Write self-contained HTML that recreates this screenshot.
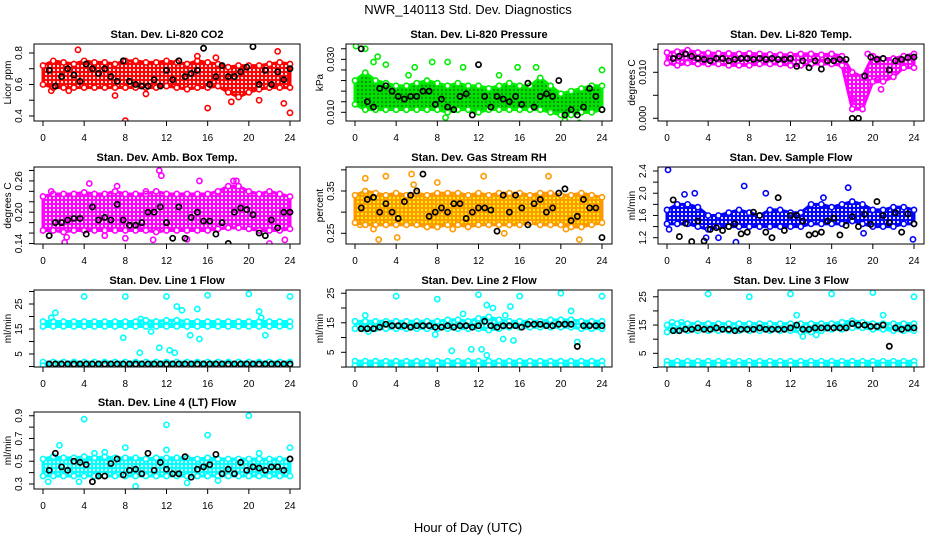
<!DOCTYPE html>
<html><head><meta charset="utf-8"><style>
html,body{margin:0;padding:0;background:#fff;}
svg{display:block;font-family:"Liberation Sans",sans-serif;}
</style></head><body>
<svg id="chart" width="936" height="540" viewBox="0 0 936 540" xmlns="http://www.w3.org/2000/svg">
<defs>
<pattern id="p-red" width="4" height="4" patternUnits="userSpaceOnUse"><rect width="4" height="4" fill="#ff0000"/><circle cx="2" cy="2" r="1.1" fill="#fff"/></pattern>
<pattern id="p-green" width="4" height="4" patternUnits="userSpaceOnUse"><rect width="4" height="4" fill="#00e000"/><circle cx="2" cy="2" r="0.9" fill="#006600"/></pattern>
<pattern id="p-magenta" width="4" height="4" patternUnits="userSpaceOnUse"><rect width="4" height="4" fill="#ff00ff"/><circle cx="2" cy="2" r="1.1" fill="#fff"/></pattern>
<pattern id="p-orange" width="4" height="4" patternUnits="userSpaceOnUse"><rect width="4" height="4" fill="#ff9900"/><circle cx="2" cy="2" r="1.1" fill="#ffff00"/></pattern>
<pattern id="p-blue" width="4" height="4" patternUnits="userSpaceOnUse"><rect width="4" height="4" fill="#0000ff"/><circle cx="2" cy="2" r="1.1" fill="#fff"/></pattern>
<pattern id="p-cyan" width="4" height="4" patternUnits="userSpaceOnUse"><rect width="4" height="4" fill="#00ffff"/><circle cx="2" cy="2" r="1.1" fill="#fff"/></pattern>
</defs>
<text x="468" y="14" font-size="13" text-anchor="middle">NWR_140113 Std. Dev. Diagnostics</text>
<text x="468" y="532" font-size="13" text-anchor="middle">Hour of Day (UTC)</text>
</svg>
<script>
// shared
const hours = [0,1,2,3,4,5,6,7,8,9,10,11,12,13,14,15,16,17,18,19,20,21,22,23,24];
const xTicks = [0,4,8,12,16,20,24];
const blackHours = [0.6,1.2,1.8,2.4,3.0,3.6,4.2,4.8,5.4,6.0,6.6,7.2,7.8,8.4,9.0,9.6,10.2,10.8,11.4,12.0,12.6,13.2,13.8,14.4,15.0,15.6,16.2,16.8,17.4,18.0,18.6,19.2,19.8,20.4,21.0,21.6,22.2,22.8,23.4,24.0];

// 1 CO2
const co2Lo = [0.6,0.58,0.58,0.58,0.58,0.58,0.58,0.58,0.58,0.58,0.58,0.58,0.59,0.58,0.57,0.58,0.58,0.59,0.55,0.52,0.55,0.57,0.58,0.58,0.58];
const co2Hi = [0.72,0.75,0.74,0.73,0.75,0.74,0.74,0.73,0.75,0.75,0.74,0.74,0.75,0.74,0.73,0.75,0.74,0.73,0.71,0.72,0.72,0.72,0.73,0.74,0.73];
const co2Out = [[3.4,0.82],[8,0.37],[16,0.45],[22.8,0.81],[23.4,0.48],[24,0.42],[7,0.53],[21,0.5],[18.3,0.49],[10,0.54],[15,0.78],[2.5,0.56],[16.8,0.77],[0.8,0.56]];
const co2Black = [0.69,0.59,0.65,0.7,0.66,0.62,0.73,0.7,0.67,0.7,0.65,0.62,0.75,0.62,0.6,0.59,0.59,0.63,0.59,0.69,0.63,0.75,0.65,0.67,0.69,0.83,0.6,0.65,0.72,0.65,0.65,0.68,0.71,0.84,0.6,0.69,0.6,0.68,0.63,0.7];
// 2 Pressure
const presLo = [0.013,0.011,0.011,0.011,0.011,0.011,0.011,0.011,0.011,0.01,0.011,0.011,0.01,0.011,0.011,0.011,0.011,0.011,0.011,0.01,0.009,0.009,0.01,0.01,0.011];
const presHi = [0.022,0.025,0.022,0.021,0.02,0.02,0.021,0.022,0.021,0.02,0.021,0.02,0.02,0.019,0.02,0.021,0.02,0.02,0.023,0.02,0.017,0.018,0.019,0.02,0.02];
const presOut = [[0.1,0.035],[1,0.034],[2.2,0.031],[1.8,0.029],[3,0.028],[5.8,0.027],[7.5,0.029],[9,0.029],[10.5,0.027],[15.8,0.027],[17.6,0.027],[24,0.026],[21.8,0.006],[20.4,0.007],[8.8,0.008],[5.2,0.024],[14,0.024]];
const presBlack = [0.034,0.014,0.012,0.019,0.02,0.018,0.016,0.015,0.016,0.016,0.018,0.018,0.013,0.015,0.012,0.011,0.016,0.017,0.009,0.028,0.016,0.012,0.016,0.015,0.014,0.016,0.013,0.021,0.012,0.016,0.017,0.016,0.022,0.009,0.011,0.009,0.012,0.019,0.016,0.011];
// 3 Temp
const tempLo = [0.012,0.0115,0.012,0.0118,0.0118,0.0118,0.0115,0.0115,0.0115,0.0118,0.0118,0.0118,0.0115,0.0115,0.0118,0.0118,0.0118,0.0115,0.002,0.002,0.008,0.008,0.009,0.011,0.011];
const tempHi = [0.0143,0.0145,0.0148,0.0143,0.0142,0.0141,0.0141,0.014,0.0141,0.014,0.0139,0.0138,0.0138,0.014,0.014,0.0138,0.014,0.0135,0.01,0.009,0.0135,0.013,0.013,0.0135,0.014];
const tempOut = [[17.8,0.006],[18,0.004],[19.5,0.014],[20.4,0.0083],[20.8,0.0063],[17.6,0.0105]];
const tempBlack = [0.013,0.0135,0.014,0.0135,0.013,0.0128,0.0125,0.013,0.013,0.0125,0.0128,0.013,0.013,0.0128,0.013,0.0128,0.013,0.0128,0.0128,0.013,0.0113,0.0125,0.011,0.0125,0.0107,0.0125,0.0125,0.0128,0.0128,0,0,0.0092,0.0133,0.0128,0.013,0.0105,0.0125,0.0128,0.0132,0.0133];
// 4 Amb box
const ambLo = [0.165,0.165,0.162,0.165,0.165,0.165,0.165,0.165,0.165,0.165,0.165,0.162,0.165,0.165,0.165,0.165,0.165,0.168,0.17,0.17,0.168,0.165,0.165,0.165,0.168];
const ambHi = [0.23,0.235,0.235,0.235,0.238,0.235,0.235,0.24,0.235,0.235,0.235,0.24,0.235,0.235,0.235,0.235,0.235,0.24,0.25,0.25,0.24,0.235,0.24,0.235,0.23];
const ambOut = [[0.8,0.24],[2.1,0.142],[2.3,0.152],[4.5,0.255],[7.2,0.25],[11.3,0.28],[11.5,0.27],[10.7,0.147],[15.2,0.26],[18.5,0.26],[18.8,0.26],[22,0.14],[23.5,0.147],[6,0.155],[8,0.15],[14,0.148],[10,0.24]];
const ambBlack = [0.155,0.18,0.18,0.185,0.188,0.188,0.158,0.21,0.185,0.19,0.185,0.215,0.185,0.175,0.175,0.18,0.2,0.2,0.21,0.18,0.15,0.21,0.15,0.19,0.2,0.183,0.183,0.158,0.18,0.14,0.2,0.208,0.205,0.195,0.16,0.155,0.185,0.17,0.2,0.2];
// 5 RH
const rhLo = [0.275,0.27,0.27,0.27,0.27,0.27,0.27,0.265,0.265,0.27,0.27,0.265,0.27,0.27,0.27,0.27,0.27,0.275,0.27,0.27,0.27,0.265,0.265,0.27,0.275];
const rhHi = [0.34,0.35,0.345,0.34,0.345,0.34,0.345,0.34,0.345,0.345,0.345,0.34,0.345,0.34,0.345,0.345,0.345,0.34,0.345,0.345,0.34,0.34,0.345,0.34,0.335];
const rhOut = [[0.5,0.27],[1,0.38],[2.3,0.235],[3,0.385],[4.1,0.24],[5.5,0.39],[5.7,0.365],[8,0.37],[12.5,0.385],[14.5,0.25],[18.8,0.385],[21.8,0.235],[20.5,0.26],[9.5,0.26],[1.8,0.26]];
const rhBlack = [0.31,0.33,0.335,0.3,0.32,0.3,0.285,0.325,0.34,0.35,0.39,0.29,0.3,0.31,0.3,0.32,0.32,0.285,0.3,0.31,0.31,0.305,0.255,0.34,0.3,0.34,0.31,0.27,0.32,0.33,0.3,0.31,0.345,0.355,0.28,0.29,0.33,0.31,0.31,0.24];
// 6 Sample flow
const sfLo = [1.45,1.45,1.45,1.4,1.35,1.4,1.4,1.4,1.4,1.4,1.4,1.4,1.4,1.4,1.45,1.45,1.45,1.45,1.5,1.45,1.4,1.4,1.4,1.45,1.45];
const sfHi = [1.7,1.8,1.8,1.75,1.6,1.6,1.65,1.7,1.65,1.6,1.7,1.7,1.65,1.65,1.8,1.8,1.75,1.8,1.85,1.8,1.7,1.7,1.75,1.75,1.7];
const sfOut = [[0.1,2.42],[7.5,2.13],[9.6,2.0],[1.7,1.98],[2.7,2.0],[17.6,2.1],[6.7,1.12],[0.2,1.35],[23.9,1.17],[19.1,1.28],[3.8,1.2],[5,1.2],[15.2,1.92]];
const sfBlack = [1.88,1.22,1.46,1.13,1.5,1.14,1.35,1.38,1.33,1.4,1.45,1.27,1.3,1.66,1.6,1.3,1.2,1.92,1.33,1.6,1.6,1.5,1.25,1.27,1.3,1.5,1.55,1.25,1.42,1.58,1.4,1.62,1.44,1.85,1.6,1.47,1.65,1.3,1.63,1.45];
// 7 Line 1
const l1Lo = [16,16,16,16,16,16,16,16,16,16,16,16,16,16,16,16,16,16,16,16,16,16,16,16,16];
const l1Hi = [18,18,18,18,18,18,18,18,18,18,18.5,18,18.5,18.5,18,18,18,18,18,18,18,18,18,18,18];
const l1Lo2 = [0.3,0.3,0.3,0.3,0.3,0.3,0.3,0.3,0.3,0.3,0.3,0.3,0.3,0.3,0.3,0.3,0.3,0.3,0.3,0.3,0.3,0.3,0.3,0.3,0.3];
const l1Hi2 = [1.8,1.8,1.8,1.8,1.8,1.8,1.8,1.8,1.8,1.8,1.8,1.8,1.8,1.8,1.8,1.8,1.8,1.8,1.8,1.8,1.8,1.8,1.8,1.8,1.8];
const l1Out = [[4,28],[8,28],[12,28],[16,28.5],[20,29],[24,28],[0.8,19.5],[1.2,21.5],[7.8,11.5],[9.4,5.5],[11.3,7.5],[12.3,6.5],[12.8,5.5],[13,24],[13.5,22.5],[15,23],[15.2,11],[14.3,12.5],[21,22],[21.2,19.5],[21.6,12.5],[10.5,14],[9.5,19]];
const l1Black = [1,1,1,1,1,1,1,1,1,1,1,1,1,1,1,1,1,1,1,1,1,1,1,1,1,1,1,1,1,1,1,1,1,1,1,1,1,1,1,1];
// 8 Line 2
const l2Lo = [13,13,13,13,13,13,13,13,13,13,13,13,13,12.5,13,13.5,13.5,13.5,13.5,13.5,13.5,13.5,13,13,13];
const l2Hi = [15.5,15.5,15.5,15.5,15.5,15.5,15.5,15.5,15.5,16,16,15.5,16.5,17,16,15.5,15.5,15.5,15.5,16,16,16,15.5,15.5,15.5];
const l2Lo2 = [0.5,0.5,0.5,0.5,0.5,0.5,0.5,0.5,0.5,0.5,0.5,0.5,0.5,0.5,0.5,0.5,0.5,0.5,0.5,0.5,0.5,0.5,0.5,0.5,0.5];
const l2Hi2 = [2,2,2,2,2,2,2,2,2,2,2,2,2,2,2,2,2,2,2,2,2,2,2,2,2];
const l2Out = [[4,24],[8,23],[12,24.5],[16,24],[20,25],[24,24],[1,17.5],[9.4,5.5],[11.3,6],[12.3,6],[12.8,4],[12.8,21],[13.4,20],[14.6,17.5],[14.4,9.5],[15.4,9],[15.1,20.5],[7.8,11],[21,19],[21.6,8.5],[10.5,18],[1.3,12]];
const l2Black = [13,13,13,13.5,14.5,14,14,14,13.5,14,14,14,13.5,13.5,14,13.5,14,14,13.5,14,15.5,14,13.5,14,14,14,13.5,14.5,14.5,14.5,14,14,14.5,14.5,14.5,7,14,14,14,14];
// 9 Line 3
const l3Lo = [12.5,13,13,13,13,13,13,13,13,13,13,13,13,12.5,12.5,13,13.5,13.5,14,14,13.5,13.5,13,13,13];
const l3Hi = [15,15.5,15.5,15.5,15.5,15.5,15.5,15.5,15.5,15.5,15.5,15.5,15.5,15.5,15.5,15.5,15.5,16,16.5,16,15.5,15.5,15.5,15.5,15.5];
const l3Lo2 = [0.8,0.8,0.8,0.8,0.8,0.8,0.8,0.8,0.8,0.8,0.8,0.8,0.8,0.8,0.8,0.8,0.8,0.8,0.8,0.8,0.8,0.8,0.8,0.8,0.8];
const l3Hi2 = [2.2,2.2,2.2,2.2,2.2,2.2,2.2,2.2,2.2,2.2,2.2,2.2,2.2,2.2,2.2,2.2,2.2,2.2,2.2,2.2,2.2,2.2,2.2,2.2,2.2];
const l3Out = [[4,26],[8,25],[12,26],[16,26],[20,26.5],[24,25],[0.5,16],[12.6,18.5],[13.2,11],[14.5,11.5],[21,18.5],[1.4,16]];
const l3Black = [13,13,13.5,13.5,14,13.5,13.5,14,13.5,13.5,13,13.5,13.5,13.5,14,13.5,13.5,13.5,13.5,14,15,13.5,13.5,14,14,14,14,14,14,15.5,15,15,14.5,14.5,15,7.5,14,13.5,14,14];
// 10 Line 4
const l4Lo = [0.37,0.37,0.37,0.37,0.37,0.37,0.37,0.37,0.37,0.37,0.37,0.37,0.37,0.37,0.37,0.37,0.37,0.37,0.37,0.37,0.37,0.37,0.37,0.37,0.37];
const l4Hi = [0.52,0.54,0.53,0.53,0.54,0.53,0.54,0.53,0.53,0.53,0.52,0.53,0.53,0.53,0.53,0.52,0.53,0.52,0.52,0.52,0.52,0.52,0.52,0.52,0.52];
const l4Out = [[4,0.87],[12,0.82],[16,0.73],[20,0.9],[24,0.62],[1.6,0.64],[8,0.62],[12,0.6],[0.5,0.32],[3.5,0.32],[9,0.28],[14,0.31],[21,0.57],[5,0.57],[6,0.58],[17,0.33]];
const l4Black = [0.42,0.57,0.45,0.42,0.5,0.49,0.47,0.32,0.37,0.37,0.48,0.52,0.38,0.42,0.43,0.39,0.57,0.42,0.49,0.43,0.39,0.39,0.54,0.36,0.43,0.45,0.47,0.56,0.39,0.43,0.39,0.49,0.42,0.45,0.44,0.42,0.45,0.45,0.42,0.52];

const panels = [
 {name:'co2',title:'Stan. Dev. Li-820 CO2',ylab:'Licor ppm',col:'#ff0000',pat:'p-red',dom:[0.368,0.857],ticks:[0.4,0.5,0.6,0.7,0.8],labs:['0.4','0.6','0.8'],labAt:[0.4,0.6,0.8],lo:co2Lo,hi:co2Hi,out:co2Out,blk:co2Black},
 {name:'pressure',title:'Stan. Dev. Li-820 Pressure',ylab:'kPa',col:'#00ee00',pat:'p-green',dom:[0.00672,0.0358],ticks:[0.010,0.014,0.018,0.022,0.026,0.030,0.034],labs:['0.010','0.030'],labAt:[0.010,0.030],lo:presLo,hi:presHi,out:presOut,blk:presBlack},
 {name:'temp',title:'Stan. Dev. Li-820 Temp.',ylab:'degrees C',col:'#ff00ff',pat:'p-magenta',dom:[-0.00059,0.01615],ticks:[0,0.005,0.010,0.015],labs:['0.000','0.010'],labAt:[0,0.010],lo:tempLo,hi:tempHi,out:tempOut,blk:tempBlack},
 {name:'amb-box-temp',title:'Stan. Dev. Amb. Box Temp.',ylab:'degrees C',col:'#ff00ff',pat:'p-magenta',dom:[0.139,0.2867],ticks:[0.14,0.16,0.18,0.20,0.22,0.24,0.26,0.28],labs:['0.14','0.20','0.26'],labAt:[0.14,0.20,0.26],lo:ambLo,hi:ambHi,out:ambOut,blk:ambBlack},
 {name:'gas-rh',title:'Stan. Dev. Gas Stream RH',ylab:'percent',col:'#ff9900',pat:'p-orange',dom:[0.2247,0.4067],ticks:[0.25,0.30,0.35,0.40],labs:['0.25','0.35'],labAt:[0.25,0.35],lo:rhLo,hi:rhHi,out:rhOut,blk:rhBlack},
 {name:'sample-flow',title:'Stan. Dev. Sample Flow',ylab:'ml/min',col:'#0000ff',pat:'p-blue',dom:[1.087,2.472],ticks:[1.2,1.4,1.6,1.8,2.0,2.2,2.4],labs:['1.2','1.6','2.0','2.4'],labAt:[1.2,1.6,2.0,2.4],lo:sfLo,hi:sfHi,out:sfOut,blk:sfBlack},
 {name:'line1-flow',title:'Stan. Dev. Line 1 Flow',ylab:'ml/min',col:'#00ffff',pat:'p-cyan',dom:[-0.2,30.6],ticks:[0,5,10,15,20,25,30],labs:['5','15','25'],labAt:[5,15,25],lo:l1Lo,hi:l1Hi,lo2:l1Lo2,hi2:l1Hi2,out:l1Out,blk:l1Black},
 {name:'line2-flow',title:'Stan. Dev. Line 2 Flow',ylab:'ml/min',col:'#00ffff',pat:'p-cyan',dom:[0.02,26.1],ticks:[0,5,10,15,20,25],labs:['5','15','25'],labAt:[5,15,25],lo:l2Lo,hi:l2Hi,lo2:l2Lo2,hi2:l2Hi2,out:l2Out,blk:l2Black},
 {name:'line3-flow',title:'Stan. Dev. Line 3 Flow',ylab:'ml/min',col:'#00ffff',pat:'p-cyan',dom:[0.16,27.4],ticks:[0,5,10,15,20,25],labs:['5','15','25'],labAt:[5,15,25],lo:l3Lo,hi:l3Hi,lo2:l3Lo2,hi2:l3Hi2,out:l3Out,blk:l3Black},
 {name:'line4-flow',title:'Stan. Dev. Line 4 (LT) Flow',ylab:'ml/min',col:'#00ffff',pat:'p-cyan',dom:[0.256,0.933],ticks:[0.3,0.4,0.5,0.6,0.7,0.8,0.9],labs:['0.3','0.5','0.7','0.9'],labAt:[0.3,0.5,0.7,0.9],lo:l4Lo,hi:l4Hi,out:l4Out,blk:l4Black}
];
const rowTops = [44,167,290,412];
const NS = 'http://www.w3.org/2000/svg';
const svg = document.getElementById('chart');
function mk(tag, attrs, parent){const e=document.createElementNS(NS,tag);for(const k in attrs)e.setAttribute(k,attrs[k]);parent.appendChild(e);return e;}

panels.forEach((p,i)=>{
  const c=i%3, r=Math.floor(i/3);
  const L=34+312*c, R=L+266, T=rowTops[r], B=T+77;
  const xs=h=>L+9+(h/24)*(R-L-19);
  const ys=v=>B-(v-p.dom[0])/(p.dom[1]-p.dom[0])*(B-T);
  const g=mk('g',{},svg);
  
  
  const cp=mk('clipPath',{id:'clip'+i},g); mk('rect',{x:L,y:T,width:R-L,height:B-T},cp);
  const plot=mk('g',{'clip-path':'url(#clip'+i+')'},g);
  
  
  function band(lo,hi,nm){
    let pts=hours.map((h,k)=>xs(h)+','+ys(hi[k]));
    pts=pts.concat(hours.slice().reverse().map((h,k)=>xs(h)+','+ys(lo[hours.length-1-k])));
    const pg=mk('polygon',{points:pts.join(' '),fill:'url(#'+p.pat+')',stroke:p.col,'stroke-width':3,'stroke-linejoin':'round'},plot);
    
    
    hours.forEach((h,k)=>{
      [hi[k],lo[k]].forEach(v=>{
        const ec=mk('circle',{cx:xs(h),cy:ys(v),r:2.6,fill:'#fff',stroke:p.col,'stroke-width':1.6},plot);
        
        
      });
    });
  }
  band(p.lo,p.hi,'data-band');
  if(p.lo2) band(p.lo2,p.hi2,'data-band-low');
  p.out.forEach(o=>{
    const ci=mk('circle',{cx:xs(o[0]),cy:ys(o[1]),r:2.6,fill:'none',stroke:p.col,'stroke-width':1.6},plot);
    
    
  });
  p.blk.forEach((v,k)=>{
    const ci=mk('circle',{cx:xs(blackHours[k]),cy:ys(v),r:2.6,fill:'none',stroke:'#000','stroke-width':1.7},plot);
    
    
  });
  const box=mk('rect',{x:L,y:T,width:R-L,height:B-T,fill:'none',stroke:'#000','stroke-width':1},g);
  
  
  const t=mk('text',{x:(L+R)/2,y:T-6,'font-size':11,'font-weight':'bold','text-anchor':'middle'},g);
  t.textContent=p.title;
  
  
  const yl=mk('text',{x:L-23,y:(T+B)/2,'font-size':10,'text-anchor':'middle',transform:'rotate(-90 '+(L-23)+' '+(T+B)/2+')'},g);
  yl.textContent=p.ylab;
  
  
  xTicks.forEach(h=>{
    mk('line',{x1:xs(h),x2:xs(h),y1:B,y2:B+5,stroke:'#000'},g);
    const tx=mk('text',{x:xs(h),y:B+20,'font-size':10,'text-anchor':'middle'},g);
    tx.textContent=h;
    
    
  });
  p.ticks.forEach(v=>{ if(ys(v)>=T-1&&ys(v)<=B+1) mk('line',{x1:L-5,x2:L,y1:ys(v),y2:ys(v),stroke:'#000'},g); });
  p.labs.forEach((s,k)=>{
    const y=ys(p.labAt[k]);
    const ty=mk('text',{x:L-12,y:y,'font-size':10,'text-anchor':'middle',transform:'rotate(-90 '+(L-12)+' '+y+')'},g);
    ty.textContent=s;
    
    
  });
});
</script>
</body></html>
